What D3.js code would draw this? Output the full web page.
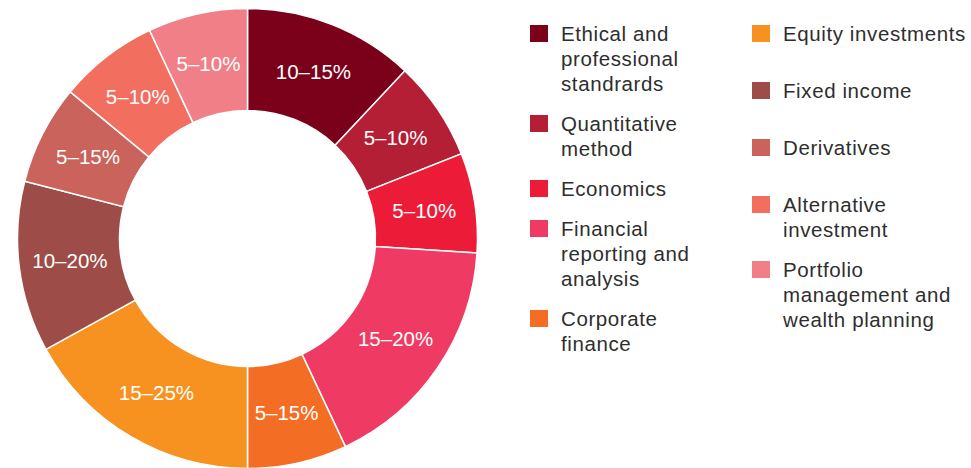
<!DOCTYPE html>
<html>
<head>
<meta charset="utf-8">
<script src="https://cdn.jsdelivr.net/npm/d3@7"></script>
<style>
  body { margin: 0; background: #fff; }
  svg { display: block; font-family: "Liberation Sans", Arial, Helvetica, sans-serif; }
</style>
</head>
<body>
<div id="chart"></div>
<script>
// exam topic weights (share of the ring)
var topics = [
  "Ethical and professional standrards",
  "Quantitative method",
  "Economics",
  "Financial reporting and analysis",
  "Corporate finance",
  "Equity investments",
  "Fixed income",
  "Derivatives",
  "Alternative investment",
  "Portfolio management and wealth planning"
];
var shares = [12, 7, 7, 17, 7, 17, 12, 7, 7, 7];
var ranges = ["10–15%", "5–10%", "5–10%", "15–20%", "5–15%", "15–25%", "10–20%", "5–15%", "5–10%", "5–10%"];
// legend text broken the way it is in the picture
var legendLines = [
  ["Ethical and", "professional", "standrards"],
  ["Quantitative", "method"],
  ["Economics"],
  ["Financial", "reporting and", "analysis"],
  ["Corporate", "finance"],
  ["Equity investments"],
  ["Fixed income"],
  ["Derivatives"],
  ["Alternative", "investment"],
  ["Portfolio", "management and", "wealth planning"]
];
var colors = ["#7b0019", "#b41f36", "#ec1b38", "#ef3b63", "#f36e24", "#f79221",
              "#9d4c47", "#c9635b", "#f26e5f", "#f17f87"];

var width = 971, height = 468;
var cx = 247.5, cy = 238.5;
var outerR = 230, innerR = 128;

var svg = d3.select('#chart')
    .append('svg')
    .attr('width', width)
    .attr('height', height);

var data = topics.map(function(t, i) {
  return {name: t, value: shares[i], label: ranges[i], color: colors[i]};
});

var pie = d3.pie()
    .sort(null)
    .value(function(d) { return d.value; });

var arc = d3.arc()
    .innerRadius(innerR)
    .outerRadius(outerR);

var g = svg.append('g')
    .attr('transform', 'translate(' + cx + ',' + cy + ')');

var arcs = pie(data);

g.selectAll('path')
    .data(arcs)
    .enter().append('path')
    .attr('d', arc)
    .attr('fill', function(d) { return d.data.color; })
    .attr('stroke', '#fff')
    .attr('stroke-width', 1.5);

g.selectAll('text')
    .data(arcs)
    .enter().append('text')
    .attr('transform', function(d) { return 'translate(' + arc.centroid(d) + ')'; })
    .attr('text-anchor', 'middle')
    .attr('dy', '0.35em')
    .attr('fill', '#fff')
    .style('font-size', '20.5px')
    .text(function(d) { return d.data.label; });

// legend: two columns of five
var lineH = 25, gap = 15;
var cols = [
  {x: 530, minH: 0},
  {x: 752, minH: 42}
];
var legend = svg.append('g');

cols.forEach(function(col, c) {
  var y = 25;
  for (var i = c * 5; i < c * 5 + 5; i++) {
    var item = legend.append('g')
        .attr('transform', 'translate(' + col.x + ',' + y + ')');
    item.append('rect')
        .attr('width', 18)
        .attr('height', 17)
        .attr('fill', colors[i]);
    var txt = item.append('text')
        .attr('x', 31)
        .attr('y', 16)
        .attr('fill', '#2e2e2e')
        .style('font-size', '20.5px')
        .style('letter-spacing', '0.6px');
    legendLines[i].forEach(function(line, k) {
      txt.append('tspan')
          .attr('x', 31)
          .attr('dy', k === 0 ? 0 : lineH)
          .text(line);
    });
    y += Math.max(legendLines[i].length * lineH, col.minH) + gap;
  }
});
</script>
</body>
</html>
